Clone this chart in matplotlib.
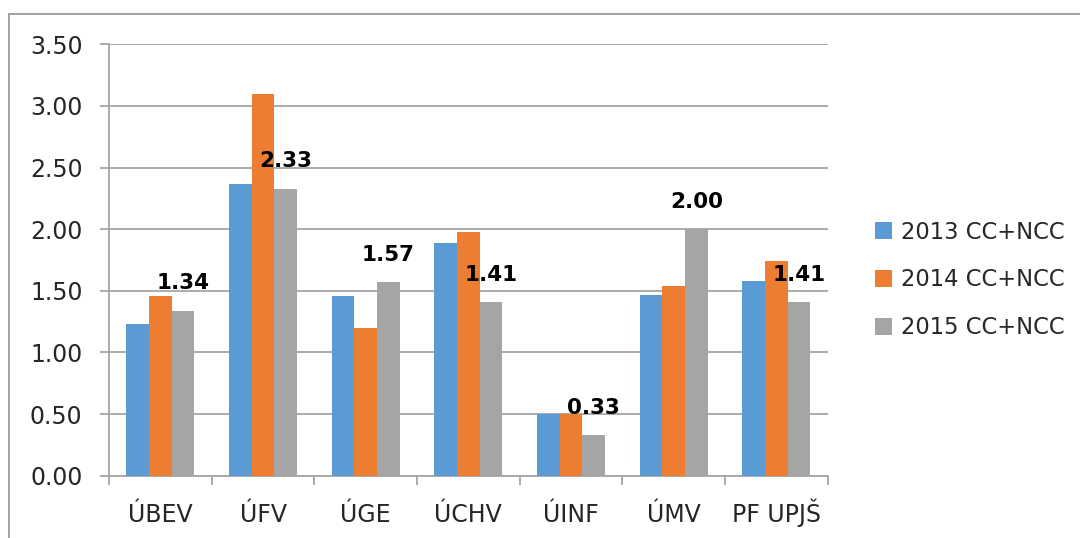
import matplotlib
matplotlib.use("Agg")
import matplotlib.pyplot as plt
import numpy as np
from matplotlib.patches import Rectangle

categories = ["ÚBEV", "ÚFV", "ÚGE", "ÚCHV", "ÚINF", "ÚMV", "PF UPJŠ"]
series_names = ["2013 CC+NCC", "2014 CC+NCC", "2015 CC+NCC"]
v2013 = [1.23, 2.37, 1.46, 1.89, 0.50, 1.47, 1.58]
v2014 = [1.46, 3.10, 1.20, 1.98, 0.50, 1.54, 1.74]
v2015 = [1.34, 2.33, 1.57, 1.41, 0.33, 2.00, 1.41]
yticks = [0.0, 0.5, 1.0, 1.5, 2.0, 2.5, 3.0, 3.5]
colors = ["#5B9BD5", "#ED7D31", "#A5A5A5"]

plt.rcParams['font.family'] = ['DejaVu Sans']

W, H = 1080, 538
fig = plt.figure(figsize=(W / 100, H / 100), dpi=100)
ax = fig.add_axes([109 / W, 1 - 475.7 / H, (827.7 - 109) / W, (475.7 - 44.3) / H])

# outer chart border
fig.patches.append(Rectangle((8.5 / W, -0.1), 1.2, 1 - 14 / H + 0.1,
                             transform=fig.transFigure, fill=False,
                             edgecolor="#9a9a9a", linewidth=1.3))

x = np.arange(len(categories))
bw = 0.221
grid_col = "#a6a6a6"
for j, (vals, name, c) in enumerate(zip([v2013, v2014, v2015], series_names, colors)):
    bars = ax.bar(x + (j - 1) * bw, vals, width=bw, color=c, label=name, zorder=3)
    if j == 2:
        for b, v in zip(bars, vals):
            ax.annotate(f"{v:.2f}", (b.get_x() + b.get_width() / 2, v),
                        xytext=(0, 15.3), textcoords="offset points",
                        ha="center", va="baseline", fontsize=15.5,
                        fontweight="bold", color="black", zorder=5)

ax.set_xlim(-0.5, len(categories) - 0.5)
ax.set_ylim(0, 3.5)
ax.set_yticks(yticks)
ax.set_yticklabels([f"{t:.2f}" for t in yticks])
ax.yaxis.grid(True, color=grid_col, linewidth=1.3, zorder=0)
ax.set_axisbelow(True)

ax.set_xticks(x)
ax.set_xticklabels(categories)
ax.set_xticks(np.arange(len(categories) + 1) - 0.5, minor=True)
ax.tick_params(axis="x", which="major", length=0, pad=33, labelsize=17, colors="#262626")
ax.tick_params(axis="x", which="minor", length=6.5, width=1.3, color=grid_col)
ax.tick_params(axis="y", which="major", length=6.5, width=1.3, color=grid_col,
               pad=12.5, labelsize=17, labelcolor="#262626")
for lab in ax.get_xticklabels():
    lab.set_verticalalignment("baseline")

for s in ["top", "right"]:
    ax.spines[s].set_visible(False)
for s in ["left", "bottom"]:
    ax.spines[s].set_color(grid_col)
    ax.spines[s].set_linewidth(1.3)

fig.legend(loc="center left", bbox_to_anchor=(875 / W, 1 - 280 / H),
           frameon=False, fontsize=16.3, handlelength=0.75, handleheight=0.75,
           handletextpad=0.4, labelspacing=1.1, borderpad=0, borderaxespad=0,
           labelcolor="#262626")

fig.savefig("out.png", dpi=100)
